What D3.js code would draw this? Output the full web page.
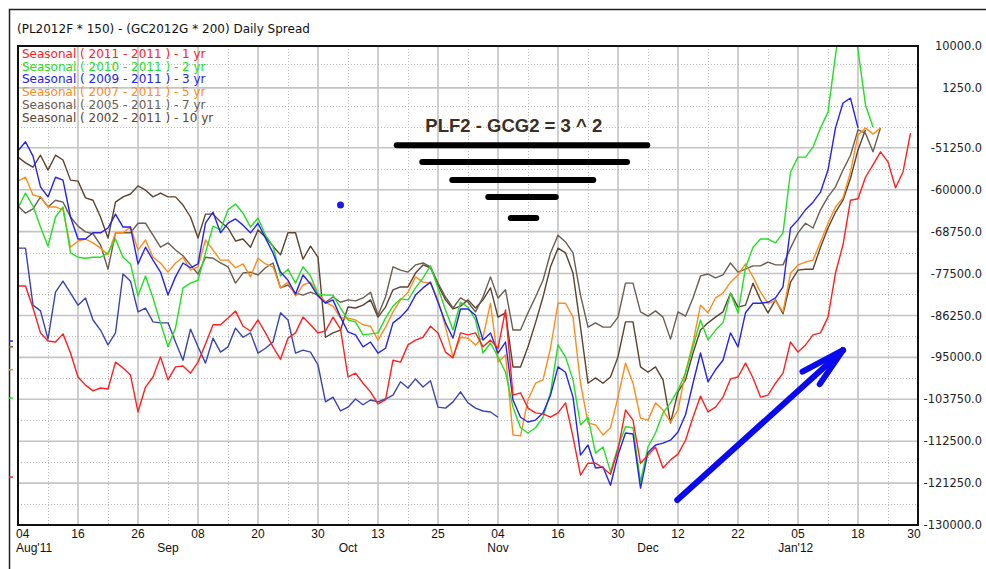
<!DOCTYPE html>
<html><head><meta charset="utf-8">
<script src="https://cdn.jsdelivr.net/npm/d3@7"></script>
<style>
html,body{margin:0;padding:0;background:#fff;}
svg{display:block;}
</style></head><body>
<svg id="c" width="986" height="569"></svg>
<script>
// ---------- data (values in thousands) ----------
const chartTitle = "(PL2012F * 150) - (GC2012G * 200) Daily Spread";
const xTickIdx = [0,8,16,24,32,40,48,56,64,72,80,88,96,104,112,120];
const xTickLabels = ["04","16","26","08","20","30","13","25","04","16","30","12","22","05","18","30"];
const monthIdx = [0,20,44,64,84,103.7];
const monthLabels = ["Aug'11","Sep","Oct","Nov","Dec","Jan'12"];
const yTickVals = [-30,-38.75,-51.25,-60,-68.75,-77.5,-86.25,-95,-103.75,-112.5,-121.25,-130];
const yTickLabels = ["10000.0","1250.0","-51250.0","-60000.0","-68750.0","-77500.0","-86250.0","-95000.0","-103750.0","-112500.0","-121250.0","-130000.0"];

const seasonal1yr = [-80.1,-80.1,-84.7,-89.9,-91.6,-91.8,-90.1,-94.1,-99.1,-100.8,-102.0,-101.4,-101.6,-96.0,-97.2,-98.7,-106.4,-101.2,-99.1,-94.9,-99.7,-97.0,-96.8,-98.3,-96.0,-92.2,-88.2,-88.2,-86.8,-85.3,-88.5,-89.5,-87.2,-89.9,-92.8,-95.4,-91.0,-89.9,-86.6,-88.2,-89.9,-89.5,-86.6,-89.1,-99.1,-98.3,-100.4,-102.2,-104.7,-103.9,-95.6,-96.0,-92.4,-91.4,-90.8,-88.5,-89.9,-93.9,-95.1,-89.9,-90.3,-89.9,-92.8,-91.4,-93.1,-85.1,-102.9,-102.4,-105.6,-106.6,-106.8,-107.5,-106.6,-104.5,-111.6,-119.6,-117.1,-117.1,-118.1,-119.4,-114.3,-106.0,-108.1,-117.1,-115.4,-113.7,-118.1,-116.4,-115.2,-112.3,-107.5,-103.1,-106.4,-105.4,-103.3,-99.5,-99.1,-96.2,-99.3,-103.3,-102.9,-100.4,-98.3,-91.8,-93.9,-92.4,-90.3,-89.9,-86.6,-77.4,-71.5,-62.2,-61.9,-57.4,-54.8,-52.1,-54.2,-59.6,-56.3,-48.2];
const seasonal2yr = [-63.8,-60.7,-63.4,-67.8,-71.8,-65.7,-63.6,-73.2,-74.1,-74.3,-74.1,-74.1,-73.2,-70.3,-74.1,-75.5,-82.2,-78.0,-82.6,-87.8,-92.8,-88.9,-80.5,-79.5,-78.9,-73.2,-67.6,-68.4,-64.2,-63.0,-64.9,-67.8,-65.9,-69.5,-71.8,-78.0,-76.6,-79.5,-76.1,-78.0,-81.8,-82.0,-82.0,-84.7,-87.2,-87.6,-90.3,-90.1,-89.9,-86.8,-84.3,-82.8,-83.0,-80.5,-78.4,-75.9,-80.5,-85.1,-89.3,-83.5,-84.5,-87.2,-94.1,-92.0,-94.9,-98.1,-105.4,-109.7,-110.8,-109.7,-107.5,-102.4,-92.4,-94.9,-99.7,-109.1,-107.5,-115.0,-113.7,-118.9,-113.7,-109.5,-109.7,-121.0,-113.7,-110.8,-106.6,-104.5,-101.8,-98.3,-92.8,-87.2,-91.4,-89.3,-87.8,-81.6,-85.7,-76.3,-72.0,-70.3,-70.3,-71.1,-69.0,-56.3,-53.2,-53.2,-51.1,-47.1,-43.8,-31.9,-21.4,-21.4,-30.8,-42.3,-46.9];
const seasonal3yr = [-51.9,-50.0,-53.0,-59.4,-61.5,-57.4,-58.0,-65.7,-70.3,-70.3,-69.0,-69.0,-68.0,-65.1,-67.8,-67.8,-75.5,-72.0,-74.7,-77.2,-82.0,-78.2,-75.3,-76.3,-75.5,-67.0,-64.7,-69.0,-67.0,-66.1,-67.4,-69.0,-67.0,-70.1,-73.2,-77.2,-78.9,-81.8,-77.8,-79.7,-82.2,-83.7,-83.0,-86.6,-89.7,-90.3,-92.8,-91.8,-94.1,-93.1,-87.8,-86.6,-84.9,-82.0,-80.5,-79.3,-83.5,-87.8,-91.0,-84.9,-84.9,-86.2,-91.4,-89.9,-94.1,-91.8,-103.9,-107.5,-108.5,-108.1,-106.6,-102.9,-97.0,-98.1,-103.3,-115.4,-113.3,-118.1,-117.9,-121.7,-115.4,-110.8,-111.0,-122.3,-114.8,-113.3,-112.9,-112.3,-110.6,-107.0,-100.4,-94.1,-100.1,-97.6,-95.6,-89.9,-92.8,-85.7,-83.7,-83.7,-83.5,-82.6,-80.3,-68.0,-66.3,-64.2,-62.6,-60.5,-55.9,-47.1,-41.9,-40.9,-47.1];
const seasonal5yr = [-58.2,-57.4,-61.1,-61.5,-63.6,-63.6,-64.2,-72.0,-70.7,-70.3,-71.1,-72.2,-73.6,-69.0,-69.0,-67.8,-72.6,-70.5,-74.1,-75.3,-77.2,-75.3,-74.1,-76.8,-76.1,-70.5,-72.6,-74.7,-74.7,-76.3,-75.5,-78.2,-74.3,-75.5,-76.1,-80.5,-79.3,-82.2,-79.9,-79.3,-81.6,-83.5,-84.3,-86.8,-86.8,-87.2,-88.2,-88.5,-91.4,-88.7,-85.5,-83.0,-81.4,-78.2,-79.3,-79.5,-83.0,-88.7,-94.9,-90.8,-91.0,-92.4,-90.8,-83.7,-96.0,-94.5,-111.2,-111.4,-103.9,-100.4,-99.7,-93.1,-83.7,-83.7,-86.6,-100.4,-108.7,-109.1,-111.2,-109.7,-103.3,-96.2,-100.4,-107.7,-108.1,-104.5,-106.0,-108.5,-106.0,-98.1,-92.0,-84.1,-85.7,-82.6,-81.6,-79.3,-77.8,-75.5,-78.2,-81.4,-83.7,-83.2,-85.5,-77.4,-75.7,-75.1,-74.7,-70.9,-67.0,-63.6,-61.7,-56.3,-48.6,-47.1,-48.4,-47.1];
const seasonal7yr = [-63.4,-64.9,-64.0,-61.5,-63.6,-62.2,-62.6,-65.7,-67.6,-68.8,-69.2,-71.5,-76.6,-69.0,-69.0,-69.0,-67.0,-67.0,-69.5,-72.0,-71.1,-72.6,-73.8,-75.7,-77.6,-74.1,-74.3,-75.3,-76.1,-79.5,-77.4,-77.2,-77.8,-76.3,-75.3,-80.5,-79.9,-81.6,-82.0,-81.4,-82.0,-83.5,-82.4,-83.5,-83.0,-83.2,-82.6,-81.4,-86.2,-82.4,-76.1,-76.8,-77.2,-75.7,-75.3,-76.1,-79.5,-82.4,-84.7,-82.6,-83.5,-85.5,-82.4,-78.2,-82.6,-80.9,-89.3,-89.3,-85.7,-82.4,-78.9,-73.2,-69.5,-70.9,-73.2,-82.0,-88.7,-87.8,-88.7,-88.7,-86.6,-79.5,-79.5,-85.5,-86.4,-85.3,-86.6,-91.2,-85.5,-86.4,-82.6,-78.0,-77.6,-78.4,-77.8,-75.3,-77.2,-76.6,-75.9,-75.9,-75.1,-75.7,-75.7,-72.2,-69.0,-67.0,-68.0,-64.2,-61.5,-59.4,-55.9,-52.8,-47.5,-48.2,-52.1,-47.1];
const seasonal10yr = [-53.2,-54.4,-55.3,-52.8,-55.9,-52.8,-53.8,-58.0,-58.2,-61.7,-62.2,-65.7,-70.1,-62.6,-61.5,-60.9,-59.2,-60.1,-61.5,-60.7,-61.5,-61.5,-63.2,-65.7,-70.1,-65.1,-65.1,-66.7,-68.0,-70.7,-70.3,-72.0,-68.4,-69.9,-71.8,-73.6,-69.0,-69.0,-74.5,-71.8,-74.1,-90.8,-89.9,-89.3,-84.5,-84.7,-84.1,-83.0,-86.6,-84.5,-80.9,-80.3,-80.3,-77.4,-75.7,-76.3,-79.9,-83.0,-84.9,-84.3,-83.0,-84.7,-83.0,-80.5,-86.6,-85.7,-97.0,-97.0,-92.8,-87.8,-82.4,-76.1,-72.2,-73.2,-77.4,-88.7,-100.4,-99.3,-100.4,-99.1,-94.9,-87.6,-87.6,-97.0,-98.1,-97.0,-99.7,-108.7,-102.2,-99.7,-94.1,-89.3,-87.8,-86.6,-85.5,-81.6,-84.5,-84.1,-79.5,-83.0,-85.7,-83.0,-85.9,-79.3,-76.8,-76.6,-76.6,-72.0,-68.0,-64.7,-62.2,-57.6,-51.7,-47.5];
const currentSpread = [-72.2,-72.2,-84.1,-85.3,-91.2,-81.4,-79.1,-81.6,-84.1,-82.6,-87.2,-89.3,-92.4,-89.9,-77.6,-79.1,-85.5,-84.7,-87.6,-87.8,-87.8,-91.8,-95.6,-89.1,-92.8,-96.2,-91.0,-93.9,-92.8,-88.9,-90.8,-89.9,-94.1,-93.1,-91.8,-85.7,-87.2,-94.1,-93.5,-93.9,-96.6,-104.3,-103.3,-106.2,-105.4,-103.7,-104.9,-103.9,-104.3,-103.7,-102.9,-100.1,-101.4,-99.5,-101.2,-99.9,-105.4,-105.6,-104.3,-102.2,-104.5,-105.6,-106.2,-106.4,-107.5];

const seriesNames = ["Seasonal ( 2011 - 2011 ) - 1 yr","Seasonal ( 2010 - 2011 ) - 2 yr","Seasonal ( 2009 - 2011 ) - 3 yr","Seasonal ( 2007 - 2011 ) - 5 yr","Seasonal ( 2005 - 2011 ) - 7 yr","Seasonal ( 2002 - 2011 ) - 10 yr"];
const seriesColors = ["#ff2020","#22e022","#2424ee","#ff8c1a","#6b5d4f","#5c4330"];
const seriesValues = [seasonal1yr, seasonal2yr, seasonal3yr, seasonal5yr, seasonal7yr, seasonal10yr];
const currentColor = "#3a44b0";

// small colour marks on the left of the frame
const leftMarkColors = ["#2424ee","#6b5d4f","#ff8c1a","#22e022","#ff2020"];
const leftMarkVals = [-91.6,-92.8,-97.6,-103.5,-120.0];

// annotations
const noteText = "PLF2 - GCG2 = 3 ^ 2";
const noteIdx = 66.1, noteVal = -47.9;
const noteBarsFrom = [50.5,53.9,57.9,62.7,65.7];
const noteBarsTo   = [83.9,81.2,76.7,71.7,69.1];
const noteBarsVal  = [-50.7,-54.2,-58.0,-61.5,-65.9];
const dotIdx = 43, dotVal = -63.2;
const arrowFrom = [87.9,-124.8], arrowTo = [110.0,-93.5];
const arrowWing1 = [104.6,-98.0], arrowWing2 = [106.9,-100.6];

// ---------- drawing ----------
const svg = d3.select("#c");
const L = 18, R = 918, T = 46, B = 525;
const x = d3.scaleLinear().domain([0,120]).range([L,R]);
const y = d3.scaleLinear().domain([-130,-30]).range([B,T]);

// outer window frame
svg.append("path").attr("d",`M9.5,569V9.5H986`).attr("fill","none").attr("stroke","#222").attr("stroke-width",1.5);

// title
svg.append("text").attr("x",17).attr("y",33).attr("font-family","DejaVu Sans").attr("font-size",12)
  .attr("fill","#111").text(chartTitle);

// grid
const g = svg.append("g");
const minorX = d3.range(4,120,8);
g.selectAll(".vx").data(minorX).join("line")
  .attr("x1",d=>x(d)+0.5).attr("x2",d=>x(d)+0.5).attr("y1",T).attr("y2",B)
  .attr("stroke","#b8b8b8").attr("stroke-width",1).attr("stroke-dasharray","1,2");
g.selectAll(".vX").data(xTickIdx.filter(d=>d>0&&d<120)).join("line")
  .attr("x1",d=>x(d)).attr("x2",d=>x(d)).attr("y1",T).attr("y2",B)
  .attr("stroke","#c4c4c4").attr("stroke-width",1.6);
const minorY = d3.range(1,23).map(k=>-130+k*4.375).filter(v=>yTickVals.every(t=>Math.abs(t-v)>1));
g.selectAll(".hy").data(minorY).join("line")
  .attr("x1",L).attr("x2",R).attr("y1",d=>Math.round(y(d))+0.5).attr("y2",d=>Math.round(y(d))+0.5)
  .attr("stroke","#b8b8b8").attr("stroke-width",1).attr("stroke-dasharray","1,2");
g.selectAll(".hY").data(yTickVals.filter(v=>v>-130&&v<-30)).join("line")
  .attr("x1",L).attr("x2",R).attr("y1",d=>y(d)).attr("y2",d=>y(d))
  .attr("stroke","#c4c4c4").attr("stroke-width",1.6);

// clip
svg.append("clipPath").attr("id","pc").append("rect").attr("x",L).attr("y",T).attr("width",R-L).attr("height",B-T);

// legend
svg.selectAll(".lg").data(seriesNames).join("text")
  .attr("x",22).attr("y",(d,i)=>57.7+i*12.8)
  .attr("font-family","DejaVu Sans").attr("font-size",12)
  .attr("fill",(d,i)=>seriesColors[i]).text(d=>d);

// lines
const line = d3.line().x((d,i)=>x(i)).y(d=>y(d));
const lg = svg.append("g").attr("clip-path","url(#pc)");
lg.append("path").attr("d",line(currentSpread)).attr("fill","none").attr("stroke",currentColor).attr("stroke-width",1.4).attr("stroke-linejoin","round");
[5,4,3,1,2,0].forEach(k=>{
  lg.append("path").attr("d",line(seriesValues[k])).attr("fill","none")
    .attr("stroke",seriesColors[k]).attr("stroke-width",1.4).attr("stroke-linejoin","round");
});

// left marks
svg.selectAll(".lm").data(leftMarkVals).join("line")
  .attr("x1",9).attr("x2",13).attr("y1",d=>y(d)).attr("y2",d=>y(d))
  .attr("stroke",(d,i)=>leftMarkColors[i]).attr("stroke-width",1.5);

// frame
svg.append("rect").attr("x",L).attr("y",T).attr("width",R-L).attr("height",B-T)
  .attr("fill","none").attr("stroke","#111").attr("stroke-width",2);

// y labels
svg.selectAll(".yl").data(yTickVals).join("text")
  .attr("x",982).attr("y",d=>y(d)).attr("dy","0.36em").attr("text-anchor","end")
  .attr("font-family","DejaVu Sans").attr("font-size",11.4).attr("fill","#222")
  .text((d,i)=>yTickLabels[i]);

// x labels
const nX = xTickIdx.length;
svg.selectAll(".xl").data(xTickIdx).join("text")
  .attr("x",(d,i)=>i===0?x(d)-2:(i===nX-1?x(d)-4:x(d))).attr("y",538)
  .attr("text-anchor",(d,i)=>i===0?"start":"middle")
  .attr("font-family","Liberation Sans").attr("font-size",12).attr("fill","#111")
  .text((d,i)=>xTickLabels[i]);
svg.selectAll(".ml").data(monthIdx).join("text")
  .attr("x",(d,i)=>i===0?x(d)-2:x(d)).attr("y",552)
  .attr("text-anchor",(d,i)=>i===0?"start":"middle")
  .attr("font-family","Liberation Sans").attr("font-size",12).attr("fill","#111")
  .text((d,i)=>monthLabels[i]);

// annotations
svg.append("text").attr("x",x(noteIdx)).attr("y",y(noteVal)).attr("text-anchor","middle")
  .attr("font-family","Liberation Sans").attr("font-weight","bold").attr("font-size",18.5)
  .attr("fill","#3b2f22").text(noteText);
svg.selectAll(".nb").data(noteBarsVal).join("line")
  .attr("x1",(d,i)=>x(noteBarsFrom[i])).attr("x2",(d,i)=>x(noteBarsTo[i]))
  .attr("y1",d=>y(d)).attr("y2",d=>y(d))
  .attr("stroke","#000").attr("stroke-width",6).attr("stroke-linecap","round");
svg.append("circle").attr("cx",x(dotIdx)).attr("cy",y(dotVal)).attr("r",3.5).attr("fill","#1a1aee");
const arr = svg.append("g").attr("stroke","#0a0af0").attr("stroke-width",6).attr("stroke-linecap","round").attr("fill","none");
[[arrowFrom,arrowTo],[arrowWing1,arrowTo],[arrowWing2,arrowTo]].forEach(([a,b])=>{
  arr.append("line").attr("x1",x(a[0])).attr("y1",y(a[1])).attr("x2",x(b[0])).attr("y2",y(b[1]));
});
</script>
</body></html>
